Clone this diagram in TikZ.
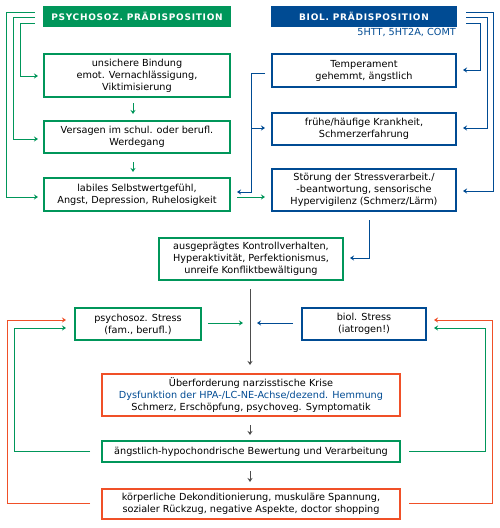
\documentclass[tikz,border=0pt]{standalone}
\usepackage{fontspec}
\setmainfont{DejaVu Sans}
\usetikzlibrary{calc,arrows.meta}
\definecolor{cg}{RGB}{0,150,90}
\definecolor{cb}{RGB}{0,75,147}
\definecolor{cr}{RGB}{240,80,40}
\definecolor{cgr}{RGB}{77,77,77}
\begin{document}
\begin{tikzpicture}[x=1pt,y=-1pt,
  font=\fontsize{9.7}{12}\selectfont,
  box/.style={draw, line width=2pt, align=center, inner sep=0pt},
  gbox/.style={box, draw=cg},
  bbox/.style={box, draw=cb},
  rbox/.style={box, draw=cr},
  head/.style={inner sep=0pt, text=white, font=\fontsize{9}{10}\selectfont\bfseries\addfontfeatures{LetterSpace=8}},
  tip/.style={-{Stealth[length=4pt,width=5pt]}},
  gl/.style={draw=cg, line width=0.8pt},
  bl/.style={draw=cb, line width=0.8pt},
  rl/.style={draw=cr, line width=0.8pt},
  kl/.style={draw=cgr, line width=0.8pt},
]
\useasboundingbox (0,0) rectangle (500,528);
\fill[white] (0,0) rectangle (500,528);
% headers
\node[head, fill=cg, minimum width=188pt, minimum height=21pt] (hg) at (137,16.5) {PSYCHOSOZ. PRÄDISPOSITION};
\node[head, fill=cb, minimum width=186pt, minimum height=21pt] (hb) at (364,16.5) {BIOL. PRÄDISPOSITION};
\node[anchor=east, inner sep=0pt, text=cb] (gen) at (456,32) {5HTT, 5HT2A, COMT};
% green column
\node[gbox, minimum width=186pt, minimum height=43pt] (g1) at (137,75.5) {unsichere Bindung\\emot. Vernachlässigung,\\Viktimisierung};
\node[gbox, minimum width=186pt, minimum height=32pt] (g2) at (137,137) {Versagen im schul. oder berufl.\\Werdegang};
\node[gbox, minimum width=186pt, minimum height=33pt] (g3) at (137,194.5) {labiles Selbstwertgefühl,\\Angst, Depression, Ruhelosigkeit};
% blue column
\node[bbox, minimum width=184pt, minimum height=33pt] (b1) at (364,70.5) {Temperament\\gehemmt, ängstlich};
\node[bbox, minimum width=184pt, minimum height=32pt] (b2) at (364,129) {frühe/häufige Krankheit,\\Schmerzerfahrung};
\node[bbox, minimum width=184pt, minimum height=42pt] (b3) at (364,190) {Störung der Stressverarbeit./\\-beantwortung, sensorische\\Hypervigilenz (Schmerz/Lärm)};
% middle
\node[gbox, minimum width=184pt, minimum height=42pt] (k) at (251,259) {ausgeprägtes Kontrollverhalten,\\Hyperaktivität, Perfektionismus,\\unreife Konfliktbewältigung};
\node[gbox, minimum width=126pt, minimum height=32pt] (ps) at (138,324) {psychosoz. Stress\\(fam., berufl.)};
\node[bbox, minimum width=124pt, minimum height=32pt] (bs) at (364,324) {biol. Stress\\(iatrogen!)};
\coordinate (mid) at (250,323);
\node[rbox, minimum width=298pt, minimum height=42pt] (u) at (251,395) {Überforderung narzisstische Krise\\\textcolor{cb}{Dysfunktion der HPA-/LC-NE-Achse/dezend. Hemmung}\\Schmerz, Erschöpfung, psychoveg. Symptomatik};
\node[gbox, minimum width=298pt, minimum height=21pt] (a) at (251,451.5) {ängstlich-hypochondrische Bewertung und Verarbeitung};
\node[rbox, minimum width=298pt, minimum height=30pt] (kk) at (251,504) {körperliche Dekonditionierung, muskuläre Spannung,\\sozialer Rückzug, negative Aspekte, doctor shopping};
% left green lines from header
\draw[gl,tip] ($(hg.west)+(-8,-4.5)$) -- ++(-28,0) |- ($(g3.west)+(-5,2.5)$);
\draw[gl,tip] ($(hg.west)+(-8,0.5)$) -- ++(-21,0) |- ($(g2.west)+(-5,2)$);
\draw[gl,tip] ($(hg.west)+(-8,6.5)$) -- ++(-14,0) |- ($(g1.west)+(-5,0.5)$);
% green down arrows
\draw[gl,tip] ($(g1.south)+(-4,5)$) -- ($(g2.north)+(-4,-6)$);
\draw[gl,tip] ($(g2.south)+(-4,8)$) -- ($(g3.north)+(-4,-5)$);
% right blue lines from header
\draw[bl,tip] ($(hb.east)+(9,-4.5)$) -- ++(27,0) |- ($(b3.east)+(6,1)$);
\draw[bl,tip] ($(hb.east)+(9,0.5)$) -- ++(21,0) |- ($(b2.east)+(6,-1)$);
\draw[bl,tip] ($(hb.east)+(9,6.5)$) -- ++(14,0) |- ($(b1.east)+(6,-0.5)$);
% blue from Temperament
\draw[bl,tip] ($(b1.west)+(-6,2.5)$) -- ++(-14,0) coordinate (tb) |- ($(g3.east)+(6,-2.5)$);
\draw[bl,tip] (tb |- b2.west) ++(0,-1) -- ($(b2.west)+(-6,-1)$);
% green labiles -> Stoerung
\draw[gl,tip] ($(g3.east)+(6,2.5)$) -- ($(b3.west)+(-6,7)$);
% blue Stoerung -> Kontroll
\draw[bl,tip] ($(b3.south)+(5,8)$) |- ($(k.east)+(6,-1)$);
% gray vertical
\draw[kl,tip] ($(k.south)+(-1,8)$) -- ($(u.north)+(-1,-8)$);
\draw[gl,tip] ($(ps.east)+(6,-1)$) -- ($(mid)+(-7,0)$);
\draw[bl,tip] ($(bs.west)+(-8,-1)$) -- ($(mid)+(7,0)$);
\draw[kl,tip] ($(u.south)+(-1,8)$) -- ($(a.north)+(-1,-5)$);
\draw[kl,tip] ($(a.south)+(-1,8)$) -- ($(kk.north)+(-1,-6)$);
% feedback loops
\draw[rl,tip] ($(kk.west)+(-11,-1)$) -- ++(-83,0) |- ($(ps.west)+(-8,-4)$);
\draw[gl,tip] ($(a.west)+(-11,-0.5)$) -- ++(-76,0) |- ($(ps.west)+(-8,4)$);
\draw[rl,tip] ($(kk.east)+(8,-1)$) -- ++(83,0) |- ($(bs.east)+(7,-4)$);
\draw[gl,tip] ($(a.east)+(8,-0.5)$) -- ++(76,0) |- ($(bs.east)+(7,4)$);
\end{tikzpicture}
\end{document}
